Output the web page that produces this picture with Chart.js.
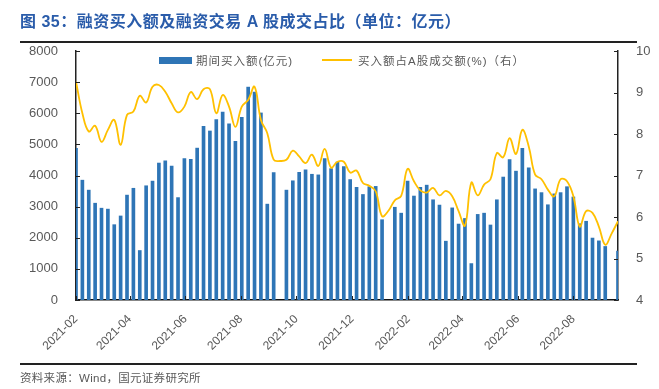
<!DOCTYPE html>
<html>
<head>
<meta charset="utf-8">
<script src="https://cdn.jsdelivr.net/npm/chart.js@4"></script>
<style>
  body { margin: 0; width: 659px; height: 389px; background: #fff; position: relative; overflow: hidden;
         font-family: 'Liberation Sans', 'Noto Sans CJK SC', sans-serif; }
  #chart { position: absolute; left: 0; top: 0; }
  .title { position: absolute; left: 20px; top: 8px; font-size: 16px; font-weight: bold; color: #2A5CAA; white-space: nowrap; letter-spacing: 0.5px; }
  .rule { position: absolute; left: 20px; width: 617px; background: #222; }
  .src { position: absolute; left: 20px; top: 369px; font-size: 11.5px; color: #595959; white-space: nowrap; letter-spacing: 0.3px; }
  .leg { position: absolute; font-size: 11.5px; color: #595959; white-space: nowrap; letter-spacing: 1px; }
  .sw { position: absolute; }
</style>
</head>
<body>
<canvas id="chart" width="659" height="389"></canvas>
<div class="title">图 35：融资买入额及融资交易 A 股成交占比（单位：亿元）</div>
<div class="rule" style="top:41px;height:2px"></div>
<div class="sw" style="left:159px;top:57px;width:33px;height:7px;background:#2E75B6"></div>
<div class="leg" style="left:196px;top:52px">期间买入额(亿元)</div>
<div class="sw" style="left:322px;top:59px;width:30px;height:2px;background:#FFC000"></div>
<div class="leg" style="left:358px;top:52px">买入额占A股成交额(%)（右）</div>
<div class="rule" style="top:363px;height:2px"></div>
<div class="src">资料来源：Wind，国元证券研究所</div>

<script>
const ctx = document.getElementById('chart').getContext('2d');

// weekly data, first week starts 2021-02-01
const startDate = '2021-02-01';
const tickLabels = ['2021-02', '2021-04', '2021-06', '2021-08', '2021-10', '2021-12', '2022-02', '2022-04', '2022-06', '2022-08'];

// 期间买入额 (亿元), null = no data that week
const buyAmount = [
  4870, 3850, 3530, 3110, 2950, 2920, 2420, 2700, 3370, 3590,
  1590, 3670, 3820, 4400, 4470, 4300, 3290, 4540, 4520, 4880,
  5580, 5430, 5800, 6040, 5660, 5100, 5870, 6840, 6680, 6010,
  3080, 4090, null, 3530, 3830, 4100, 4180, 4040, 4020, 4540,
  4220, 4430, 4290, 3870, 3620, 3390, 3640, 3650, 2580, null,
  2980, 2790, 3820, 3340, 3620, 3690, 3220, 3050, 1890, 2960,
  2440, 2620, 1170, 2750, 2790, 2410, 3220, 3950, 4510, 4140,
  4870, 4250, 3570, 3450, 3060, 3410, 3450, 3640, 3310, 2450,
  2530, 1990, 1900, 1720, null, 1570
];

// 买入额占A股成交额 (%)
const buyRatio = [
  9.26, 8.50, 8.06, 8.20, 7.81, 8.10, 8.34, 7.74, 8.46, 8.54,
  8.92, 8.76, 9.14, 9.18, 9.02, 8.74, 8.52, 8.66, 9.01, 8.84,
  9.08, 9.08, 8.50, 8.94, 8.66, 8.17, 8.66, 8.82, 9.14, 8.34,
  8.02, 7.38, 7.35, 7.38, 7.60, 7.46, 7.30, 7.50, 7.23, 7.64,
  7.19, 7.33, 7.33, 7.07, 7.12, 6.82, 6.75, 6.62, 6.02, 6.15,
  6.40, 6.51, 7.16, 6.86, 6.64, 6.59, 6.70, 6.52, 6.63, 6.50,
  6.14, 5.79, 6.83, 6.52, 6.78, 6.91, 7.54, 7.44, 7.90, 7.52,
  8.10, 7.70, 7.02, 6.91, 6.66, 6.50, 6.91, 6.86, 6.50, 5.77,
  6.14, 6.10, 5.77, 5.33, 5.60, 5.90
];

const dayOf = (s) => (Date.parse(s) - Date.parse(startDate)) / 864e5;
const weekDay = buyAmount.map((_, i) => i * 7);
const tickDays = tickLabels.map((l) => dayOf(l + '-01'));

const axisColor = '#595959';
const font = { family: "'Liberation Sans', 'Noto Sans CJK SC', sans-serif", size: 13 };

// short tick marks pointing into the plot, like the original
const innerTicks = {
  id: 'innerTicks',
  afterDraw(chart) {
    const { ctx, chartArea: a, scales } = chart;
    ctx.save();
    ctx.lineWidth = 1;
    ctx.strokeStyle = '#222';
    ctx.beginPath();
    scales.y.ticks.forEach((t) => {
      const y = Math.round(scales.y.getPixelForValue(t.value)) + 0.5;
      ctx.moveTo(a.left, y); ctx.lineTo(a.left + 4, y);
    });
    scales.y1.ticks.forEach((t) => {
      const y = Math.round(scales.y1.getPixelForValue(t.value)) + 0.5;
      ctx.moveTo(a.right, y); ctx.lineTo(a.right - 4, y);
    });
    scales.x.ticks.forEach((t) => {
      const x = Math.round(scales.x.getPixelForValue(t.value)) + 0.5;
      ctx.moveTo(x, a.bottom); ctx.lineTo(x, a.bottom - 4);
    });
    ctx.stroke();
    ctx.restore();
  },
};

new Chart(ctx, {
  data: {
    datasets: [
      {
        type: 'line',
        label: '买入额占A股成交额(%)（右）',
        data: weekDay.map((d, i) => ({ x: d, y: buyRatio[i] })),
        yAxisID: 'y1',
        borderColor: '#FFC000',
        borderWidth: 1.8,
        pointRadius: 0,
        tension: 0.4,
        order: 0,
      },
      {
        type: 'bar',
        label: '期间买入额(亿元)',
        data: weekDay.map((d, i) => ({ x: d, y: buyAmount[i] })),
        yAxisID: 'y',
        backgroundColor: '#2E75B6',
        barThickness: 3,
        order: 1,
      },
    ],
  },
  options: {
    responsive: false,
    animation: false,
    devicePixelRatio: 1,
    layout: { padding: { top: 51, left: 0, right: 0, bottom: 0 } },
    plugins: { legend: { display: false }, tooltip: { enabled: false } },
    scales: {
      x: {
        type: 'linear',
        offset: false,
        min: 0,
        max: weekDay[weekDay.length - 1],
        grid: { display: false, offset: false },
        border: { display: true, color: '#111', width: 1.5 },
        afterBuildTicks: (s) => { s.ticks = tickDays.map((v) => ({ value: v })); },
        afterFit: (s) => { s.height = 89; },
        ticks: {
          autoSkip: false,
          minRotation: 45,
          maxRotation: 45,
          padding: 4,
          color: axisColor,
          font: { ...font, size: 12 },
          callback: (v) => tickLabels[tickDays.indexOf(v)],
        },
      },
      y: {
        position: 'left',
        min: 0,
        max: 8000,
        grid: { display: false },
        border: { display: true, color: '#222', width: 1.5 },
        afterFit: (s) => { s.width = 76; },
        ticks: { stepSize: 1000, padding: 10, color: axisColor, font, callback: (v) => String(v) },
      },
      y1: {
        position: 'right',
        min: 4,
        max: 10,
        grid: { display: false },
        border: { display: true, color: '#222', width: 1.5 },
        afterFit: (s) => { s.width = 41; },
        ticks: { stepSize: 1, padding: 10, color: axisColor, font, callback: (v) => String(v) },
      },
    },
  },
  plugins: [innerTicks],
});
</script>
</body>
</html>
